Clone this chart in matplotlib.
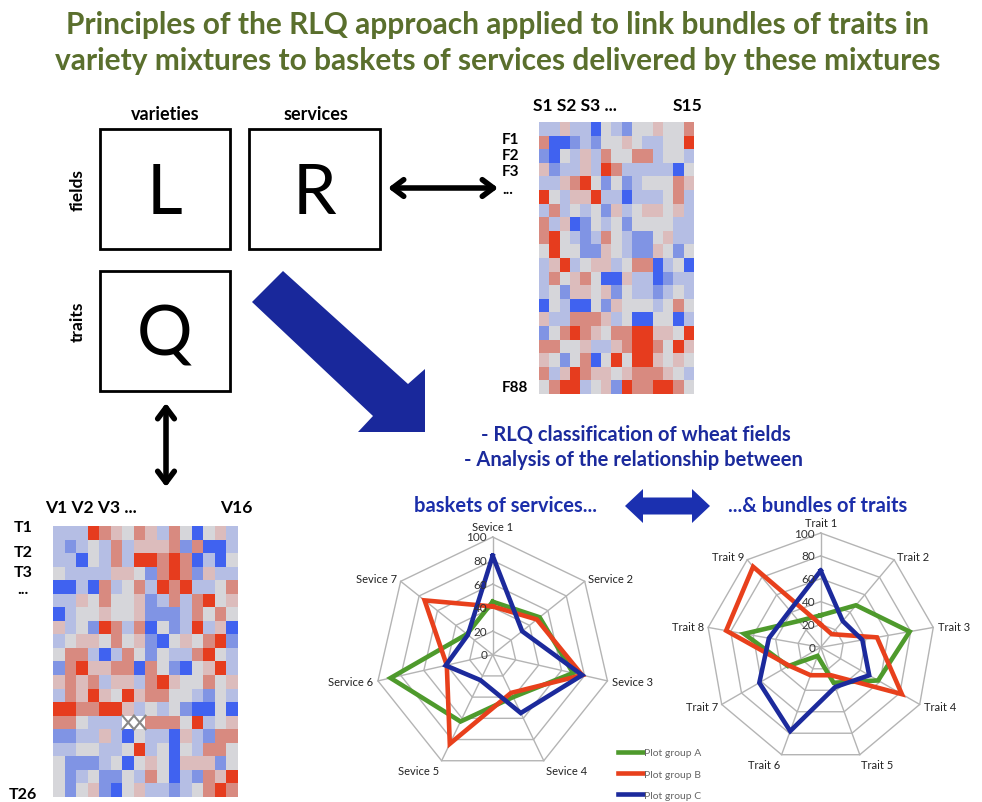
import numpy as np
import matplotlib
matplotlib.use("Agg")
import matplotlib.pyplot as plt
from matplotlib.colors import ListedColormap, BoundaryNorm
from matplotlib.patches import Rectangle, Polygon

plt.rcParams["font.family"] = ["Lato", "DejaVu Sans"]

W, H = 982, 803

# heatmap R : fields x services (levels -3 strong blue .. +3 strong red)
r_rows = [
    [-1, -1, 1, -1, -1, -3, 0, -1, -2, 0, 0, 1, 0, 0, 2],
    [2, -3, -3, -2, -1, -2, 0, 0, 1, 0, -1, -1, 0, 0, 3],
    [-2, -3, 0, -1, 1, -1, 2, 0, 0, 2, 2, -1, 0, 0, -1],
    [1, -2, -1, -1, 1, -1, 3, 2, -1, -1, -1, -1, -1, -3, 0],
    [-1, -1, 1, 2, 3, 0, -2, 0, -2, -1, 0, 0, 0, 2, 1],
    [3, 0, -1, 1, 1, 3, -1, -1, -3, -1, -1, -1, 0, 2, -1],
    [-1, 2, -1, 0, -1, 0, -2, 1, -1, 0, 1, 1, 0, 1, -1],
    [2, -1, 1, -3, -2, 0, -1, 0, -2, 0, 0, 0, 0, -1, -1],
    [2, 3, 0, -1, -2, -1, 2, 0, -1, -2, -2, 0, 1, -1, -1],
    [0, 3, 0, 0, -2, -2, 1, 0, -1, -2, -2, 1, 0, -2, 0],
    [-1, 1, 3, -1, 0, 1, 1, -1, 0, 2, 2, -3, -1, 0, -3],
    [-1, 2, 0, 1, 2, 0, -3, -3, 1, -1, -1, -3, -2, -1, -1],
    [-1, 0, -2, 1, 1, 0, 1, -2, 0, -1, -1, -2, -1, 0, -1],
    [-3, 0, -1, -3, -3, 0, -2, 1, 0, 0, 0, -1, 0, 2, 0],
    [1, -1, -1, 2, 2, 2, 1, -1, 0, -3, -3, 0, 0, -3, -1],
    [-2, 0, 2, 3, 2, 1, 0, 2, 2, 3, 3, 1, 1, 0, 3],
    [2, 2, 0, 0, 1, -1, -1, 1, 2, 3, 3, 2, 0, 3, 1],
    [1, 0, -2, 0, 2, -3, 0, 3, 0, 3, 3, 1, 0, 1, 0],
    [2, -1, 1, 3, 2, 1, 1, 0, 1, 2, 2, 2, 1, 0, -1],
    [0, 2, 3, 3, -1, 0, 1, -2, 3, 2, 2, 3, 3, 2, 0],
]

# heatmap Q : traits x varieties (None = missing cell)
q_rows = [
    [-1, -1, -1, 3, 2, 1, 0, 2, 1, -1, 2, 0, -3, 0, 1, -1],
    [-1, -2, -1, 0, -1, 2, -1, 1, 1, 1, 2, -2, 2, -3, -3, -1],
    [-1, -1, -3, 0, -1, 2, -1, 3, 3, 2, 3, 2, -3, -1, -3, 0],
    [0, -1, -1, -1, -1, 1, 1, 0, -2, 2, 3, 2, -2, 1, -1, -1],
    [-3, -3, -1, -3, 2, -1, 0, 2, -1, 3, 2, 3, -1, -1, 0, 2],
    [-1, -1, 1, 0, 2, 0, 0, 1, -2, -1, 2, -1, 2, 3, 0, 1],
    [-3, -1, 0, 0, 1, 0, 0, 1, -2, -2, -2, -1, 2, 0, 2, 0],
    [1, -1, 0, -2, 3, 2, -1, 2, -3, 0, -2, -1, 3, -1, 1, -3],
    [-1, 0, 1, 1, 0, 2, 0, 1, -2, -3, 0, 1, 0, 2, 3, -2],
    [0, 2, 2, -1, -3, -1, 2, 0, -2, 0, -1, -1, 2, 3, 0, -1],
    [-2, 2, 3, 1, 1, 2, 2, -3, 2, 0, -2, -3, 0, 1, 3, -1],
    [1, 2, 1, 2, -1, 1, 1, -1, 2, 3, 1, 0, 0, 2, 0, 1],
    [-1, 2, 1, 3, 1, 0, 3, 1, 2, 2, 0, 0, -1, -2, 0, -1],
    [3, 3, 2, 2, 3, 3, 1, -1, 0, -1, 0, -2, -3, -3, 0, -3],
    [2, 2, 0, -1, -1, -1, None, None, 2, 2, 2, 0, 3, -1, 0, 1],
    [-2, -2, -1, -1, 1, -1, -3, 0, -1, -1, -3, 1, -1, -2, 2, 2],
    [-1, -1, 0, 0, -1, -1, 0, 3, -1, 0, -3, 0, -1, 2, 2, 0],
    [0, -2, -2, -2, -1, 0, -3, 0, 1, 0, -3, 1, 1, 1, -2, 0],
    [0, -2, -1, 0, -2, -2, 0, -1, 2, 0, -3, -1, -2, 2, 1, 3],
    [0, -2, 0, 1, -2, -3, 0, 1, -1, -1, -2, -1, 0, 2, 3, 2],
]

# radar charts
services = ["Sevice 1", "Service 2", "Sevice 3", "Sevice 4", "Sevice 5", "Service 6", "Sevice 7"]
serv_a = [45, 51, 70, 40, 63, 89, 28]
serv_b = [41, 48, 78, 36, 84, 40, 74]
serv_c = [84, 32, 78, 55, 24, 41, 27]

traits = ["Trait 1", "Trait 2", "Trait 3", "Trait 4", "Trait 5", "Trait 6", "Trait 7", "Trait 8", "Trait 9"]
trait_a = [28, 48, 79, 58, 33, 8, 33, 68, 30]
trait_b = [20, 15, 50, 82, 26, 26, 32, 84, 92]
trait_c = [67, 30, 37, 49, 37, 78, 62, 46, 42]

groups = ["Plot group A", "Plot group B", "Plot group C"]
ring_ticks = [0, 20, 40, 60, 80, 100]

OLIVE = "#5a6f2d"
NAVY = "#1b2a9c"
line_cols = ["#4e9a2c", "#e8401c", "#1c2a9c"]

cmap = ListedColormap(["#4062f0", "#8094e4", "#b5bee4", "#d6d6da",
                       "#dcbcbc", "#d88a80", "#e63c1e"])
cmap.set_bad("white")
norm = BoundaryNorm(np.arange(-3.5, 4.5, 1), cmap.N)


def frac(x0, y0, x1, y1):
    # pixel box -> figure fraction rect
    return [x0 / W, 1 - y1 / H, (x1 - x0) / W, (y1 - y0) / H]


fig = plt.figure(figsize=(W / 100, H / 100), dpi=100)
bg = fig.add_axes([0, 0, 1, 1])
bg.set_xlim(0, W)
bg.set_ylim(H, 0)
bg.axis("off")

# title
bg.text(498, 25, "Principles of the RLQ approach applied to link bundles of traits in",
        ha="center", va="center", fontsize=21.5, fontweight="bold", color=OLIVE)
bg.text(498, 61, "variety mixtures to baskets of services delivered by these mixtures",
        ha="center", va="center", fontsize=21.5, fontweight="bold", color=OLIVE)

# L R Q boxes
for (x0, y0, x1, y1), letter in [((100, 130, 230, 250), "L"),
                                  ((249, 130, 380, 250), "R"),
                                  ((100, 272, 230, 392), "Q")]:
    bg.add_patch(Rectangle((x0, y0), x1 - x0, y1 - y0, fill=False, lw=2, ec="black"))
    bg.text((x0 + x1) / 2, (y0 + y1) / 2 + 4, letter, ha="center", va="center", fontsize=50)

bg.text(165, 114, "varieties", ha="center", va="center", fontsize=13, fontweight="bold")
bg.text(316, 114, "services", ha="center", va="center", fontsize=13, fontweight="bold")
bg.text(78, 190, "fields", ha="center", va="center", fontsize=12.5, fontweight="bold", rotation=90)
bg.text(78, 322, "traits", ha="center", va="center", fontsize=12.5, fontweight="bold", rotation=90)

# black double arrows
bg.annotate("", xy=(388, 189), xytext=(498, 189),
            arrowprops=dict(arrowstyle="<->,head_length=0.8,head_width=0.6", lw=4, color="black",
                            shrinkA=0, shrinkB=0))
bg.annotate("", xy=(166, 404), xytext=(166, 488),
            arrowprops=dict(arrowstyle="<->,head_length=0.8,head_width=0.6", lw=4, color="black",
                            shrinkA=0, shrinkB=0))

# big blue arrow
bg.add_patch(Polygon([(283, 272), (408, 385), (425, 370), (425, 433), (358, 433),
                      (373, 417), (252, 303)], closed=True, fc="#19289b", ec="none"))

# blue double arrow
bg.add_patch(Polygon([(625, 507), (643, 490), (643, 498.5), (692, 498.5), (692, 490), (710, 507),
                      (692, 524), (692, 515.5), (643, 515.5), (643, 524)], closed=True,
                     fc="#1b30b0", ec="none"))

# middle texts
bg.text(636, 435, "- RLQ classification of wheat fields", ha="center", va="center",
        fontsize=14.5, fontweight="bold", color=NAVY)
bg.text(633, 460, "- Analysis of the relationship between", ha="center", va="center",
        fontsize=14.5, fontweight="bold", color=NAVY)
bg.text(506, 506, "baskets of services...", ha="center", va="center",
        fontsize=14.5, fontweight="bold", color="#1b2eaa")
bg.text(818, 506, "...& bundles of traits", ha="center", va="center",
        fontsize=14.5, fontweight="bold", color="#1b2eaa")

# heatmap R
ax_r = fig.add_axes(frac(539, 123, 694, 395))
ax_r.imshow(np.array(r_rows, dtype=float), cmap=cmap, norm=norm, aspect="auto",
            interpolation="nearest")
ax_r.axis("off")
bg.text(533, 106, "S1 S2 S3 ...", ha="left", va="center", fontsize=12.5, fontweight="bold")
bg.text(688, 106, "S15", ha="center", va="center", fontsize=12.5, fontweight="bold")
for y, lab in [(140, "F1"), (156, "F2"), (172, "F3"), (190, "..."), (388, "F88")]:
    bg.text(502, y, lab, ha="left", va="center", fontsize=11, fontweight="bold")

# heatmap Q
q_arr = np.array([[np.nan if v is None else v for v in row] for row in q_rows], dtype=float)
ax_q = fig.add_axes(frac(53, 527, 238, 798))
ax_q.imshow(q_arr, cmap=cmap, norm=norm, aspect="auto", interpolation="nearest")
for r, c in zip(*np.where(np.isnan(q_arr))):
    ax_q.plot([c - 0.5, c + 0.5], [r - 0.5, r + 0.5], color="#888888", lw=1.5)
    ax_q.plot([c - 0.5, c + 0.5], [r + 0.5, r - 0.5], color="#888888", lw=1.5)
ax_q.axis("off")
bg.text(45, 508, "V1 V2 V3 ...", ha="left", va="center", fontsize=12.5, fontweight="bold")
bg.text(236, 508, "V16", ha="center", va="center", fontsize=12.5, fontweight="bold")
for y, lab in [(528, "T1"), (553, "T2"), (573, "T3"), (590, "..."), (795, "T26")]:
    bg.text(23, y, lab, ha="center", va="center", fontsize=11.5, fontweight="bold")


def radar(rect, labels, series):
    ax = fig.add_axes(rect, projection="polar")
    ax.set_theta_zero_location("N")
    ax.set_theta_direction(-1)
    ax.set_ylim(0, 100)
    ax.axis("off")
    n = len(labels)
    ang = np.linspace(0, 2 * np.pi, n, endpoint=False)
    ang_c = np.append(ang, ang[0])
    for t in ring_ticks[1:]:
        ax.plot(ang_c, [t] * (n + 1), color="#b4b4b4", lw=1, clip_on=False)
    for a in ang:
        ax.plot([a, a], [0, 100], color="#b4b4b4", lw=1, clip_on=False)
    handles = []
    for vals, col in zip(series, line_cols):
        h, = ax.plot(ang_c, list(vals) + [vals[0]], color=col, lw=3.3,
                     solid_joinstyle="miter", clip_on=False)
        handles.append(h)
    for t in ring_ticks:
        ax.annotate(str(t), xy=(0, t), xytext=(-4, 0), textcoords="offset points",
                    ha="right", va="center", fontsize=8.5, color="#333333")
    for a, lab in zip(ang, labels):
        x, y = np.sin(a), np.cos(a)
        ha = "center" if abs(x) < 0.1 else ("left" if x > 0 else "right")
        va = "bottom" if y > 0.9 else ("top" if y < -0.6 else "center")
        ax.text(a, 104, lab, ha=ha, va=va, fontsize=8, color="#222222")
    return handles


handles = radar(frac(375, 538, 610.4, 773.4), services, [serv_a, serv_b, serv_c])
radar(frac(706.4, 534, 935, 762.6), traits, [trait_a, trait_b, trait_c])

fig.legend(handles, groups, loc="upper left", bbox_to_anchor=(614 / W, 1 - 745 / H),
           frameon=False, fontsize=7.5, handlelength=2.4, handletextpad=0.1,
           labelspacing=1.15, labelcolor="#666666", borderaxespad=0)

fig.savefig("out.png", dpi=100)
